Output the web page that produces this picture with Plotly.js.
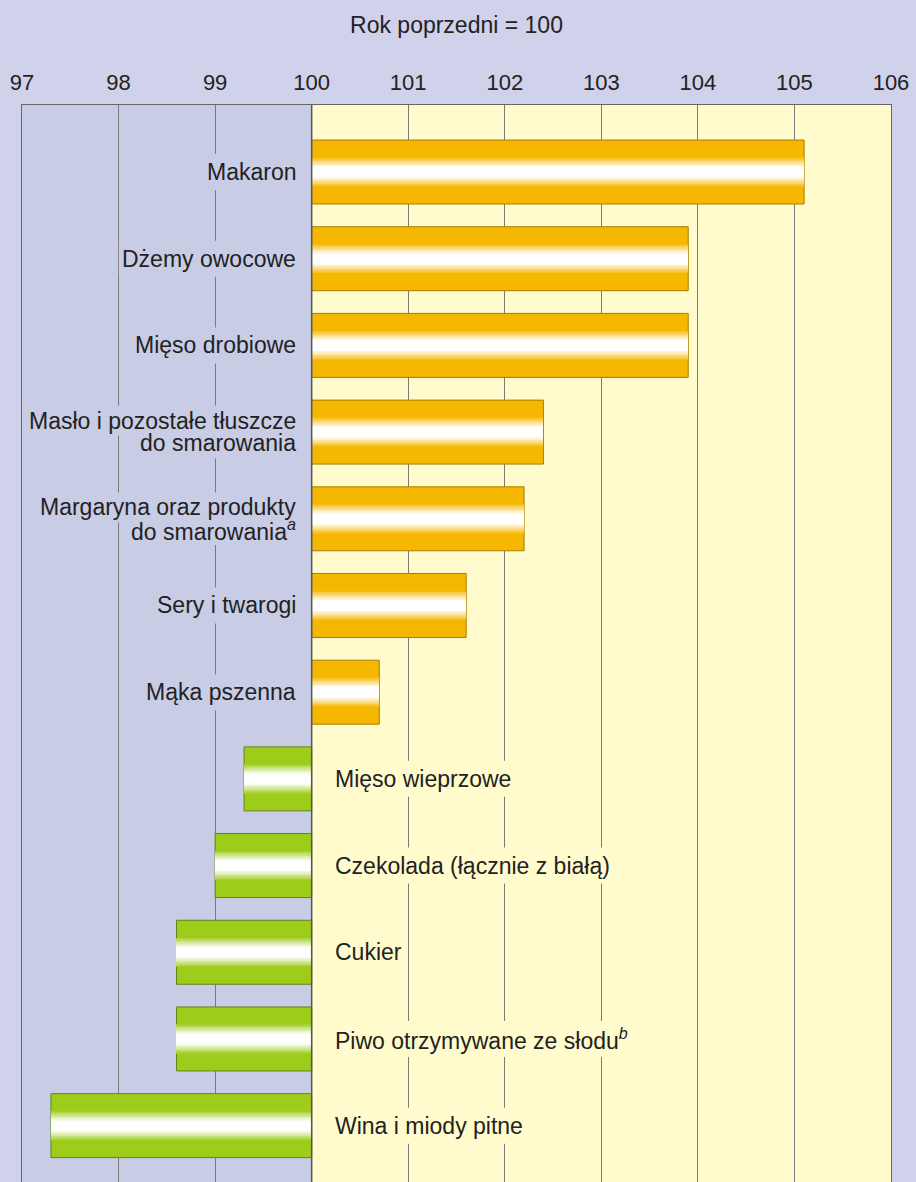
<!DOCTYPE html>
<html>
<head>
<meta charset="utf-8">
<script src="https://cdn.plot.ly/plotly-3.0.1.min.js"></script>
<style>html,body{margin:0;padding:0;background:#d0d1ea;}#chart{width:916px;height:1182px;}</style>
</head>
<body>
<div id="chart"></div>
<script>
const categories = ['Makaron','Dżemy owocowe','Mięso drobiowe','Masło i pozostałe tłuszcze do smarowania','Margaryna oraz produkty do smarowania','Sery i twarogi','Mąka pszenna','Mięso wieprzowe','Czekolada (łącznie z białą)','Cukier','Piwo otrzymywane ze słodu','Wina i miody pitne'];
const labels = ['Makaron','Dżemy owocowe','Mięso drobiowe','Masło i pozostałe tłuszcze<br>do smarowania','Margaryna oraz produkty<br>do smarowania<sup><i>a</i></sup>','Sery i twarogi','Mąka pszenna','Mięso wieprzowe','Czekolada (łącznie z białą)','Cukier','Piwo otrzymywane ze słodu<sup><i>b</i></sup>','Wina i miody pitne'];
const values = [105.1,103.9,103.9,102.4,102.2,101.6,100.7,99.3,99.0,98.6,98.6,97.3];
const tickValues = [97,98,99,100,101,102,103,104,105,106];
const baseValue = 100;

const ORANGE = [245,183,0], GREEN = [157,204,26], WHITE = [255,255,255];
const ORANGE_LINE = '#a87e00', GREEN_LINE = '#62821a';
const LEFT_BG = '#c8cce5', RIGHT_BG = '#fffbcc', PAPER = '#d0d1ea';
const W = 0.738;
const FS = 23;
const FONT = 'Liberation Sans, Arial, Helvetica, sans-serif';

function mix(c, t){ return 'rgb(' + c.map((v,i)=>Math.round(v + (WHITE[i]-v)*t)).join(',') + ')'; }

const traces = [];
traces.push({
  type:'bar', orientation:'h', y: categories, x: values.map(v=>v-baseValue), base: baseValue, width: W,
  marker:{color: values.map(v=> v>=baseValue ? mix(ORANGE,0) : mix(GREEN,0)),
          line:{color: values.map(v=> v>=baseValue ? ORANGE_LINE : GREEN_LINE), width:1}},
  hoverinfo:'skip', showlegend:false
});
// gradient highlight layers
const fSteps = [];
for (let f=0.46; f>0.05; f-=0.025) fSteps.push(f);
fSteps.forEach((f,k)=>{
  const fNext = k+1<fSteps.length ? fSteps[k+1] : 0;
  const fm = (f+fNext)/2;
  let t = (0.46 - fm)/0.32; t = Math.max(0, Math.min(1, t));
  t = Math.pow(t, 0.85);
  traces.push({
    type:'bar', orientation:'h', y: categories, x: values.map(v=>v-baseValue), base: baseValue, width: W*f,
    marker:{color: values.map(v=> v>=baseValue ? mix(ORANGE,t) : mix(GREEN,t)), line:{width:0}},
    hoverinfo:'skip', showlegend:false
  });
});

// text measurement for the gaps that labels cut in the grid lines
const ctx = document.createElement('canvas').getContext('2d');
function textWidth(s){
  const m = s.match(/^(.*?)(<sup><i>(.*)<\/i><\/sup>)?$/);
  ctx.font = FS + 'px "Liberation Sans"';
  let w = ctx.measureText(m[1]).width;
  if (m[3]) { ctx.font = 'italic ' + Math.round(FS*0.7) + 'px "Liberation Sans"'; w += ctx.measureText(m[3]).width; }
  return w;
}

const annotations = [], gapShapes = [];
const LINE_STEP = 22.6;
labels.forEach((lab,i)=>{
  const lines = lab.split('<br>');
  const pos = values[i] >= baseValue;
  lines.forEach((ln,j)=>{
    const ys = ((lines.length-1)/2 - j)*LINE_STEP;
    annotations.push({
      x: baseValue, y: categories[i], xref:'x', yref:'y', text: ln, showarrow:false,
      xanchor: pos ? 'right' : 'left', yanchor:'middle',
      xshift: pos ? -12 : 19, yshift: ys,
      align: pos ? 'right' : 'left', borderpad:3,
      font:{family:FONT, size:FS, color:'#222'}
    });
    const w = textWidth(ln);
    const half = lines.length > 1 ? 15 : 18;
    gapShapes.push({
      type:'rect', xref:'x', yref:'y', xsizemode:'pixel', ysizemode:'pixel',
      xanchor: baseValue, yanchor: i,
      x0: pos ? -17 - w - 2 : 19, x1: pos ? -12 : 22 + w + 4,
      y0: ys - half, y1: ys + half,
      fillcolor: pos ? LEFT_BG : RIGHT_BG, line:{width:0}, layer:'above'
    });
  });
});

const layout = {
  width:916, height:1182,
  margin:{l:22, r:25, t:105, b:0},
  paper_bgcolor: PAPER, plot_bgcolor: PAPER,
  barmode:'overlay', bargap:0,
  font:{family:FONT, color:'#222'},
  title:{text:'Rok poprzedni = 100', x:0.5, xref:'paper', y:1-25/1182, yref:'container', yanchor:'middle', xanchor:'center',
         font:{family:FONT, size:23, color:'#222'}},
  xaxis:{side:'top', range:[97,106], tickvals: tickValues, ticktext: tickValues.map(String), showgrid:true, gridcolor:'#7a7a7a', gridwidth:1,
         showline:true, mirror:true, linecolor:'#666', linewidth:1, ticks:'', zeroline:false, ticklabelstandoff:5,
         tickfont:{family:FONT, size:22, color:'#222'}, fixedrange:true},
  yaxis:{type:'category', categoryorder:'array', categoryarray: categories, range:[11.65,-0.773], showticklabels:false,
         showgrid:false, showline:true, mirror:true, linecolor:'#666', linewidth:1, zeroline:false, fixedrange:true},
  shapes:[
    {type:'rect', xref:'x', yref:'paper', x0:97, x1:baseValue, y0:0, y1:1, fillcolor:LEFT_BG, line:{width:0}, layer:'below'},
    {type:'rect', xref:'x', yref:'paper', x0:baseValue, x1:106, y0:0, y1:1, fillcolor:RIGHT_BG, line:{width:0}, layer:'below'}
  ].concat(gapShapes).concat([
    {type:'line', xref:'x', yref:'paper', x0:baseValue, x1:baseValue, y0:0, y1:1, line:{color:'#555', width:1.5}, layer:'above'}
  ]),
  annotations: annotations
};

Plotly.newPlot('chart', traces, layout, {displayModeBar:false, staticPlot:true});
</script>
</body>
</html>
